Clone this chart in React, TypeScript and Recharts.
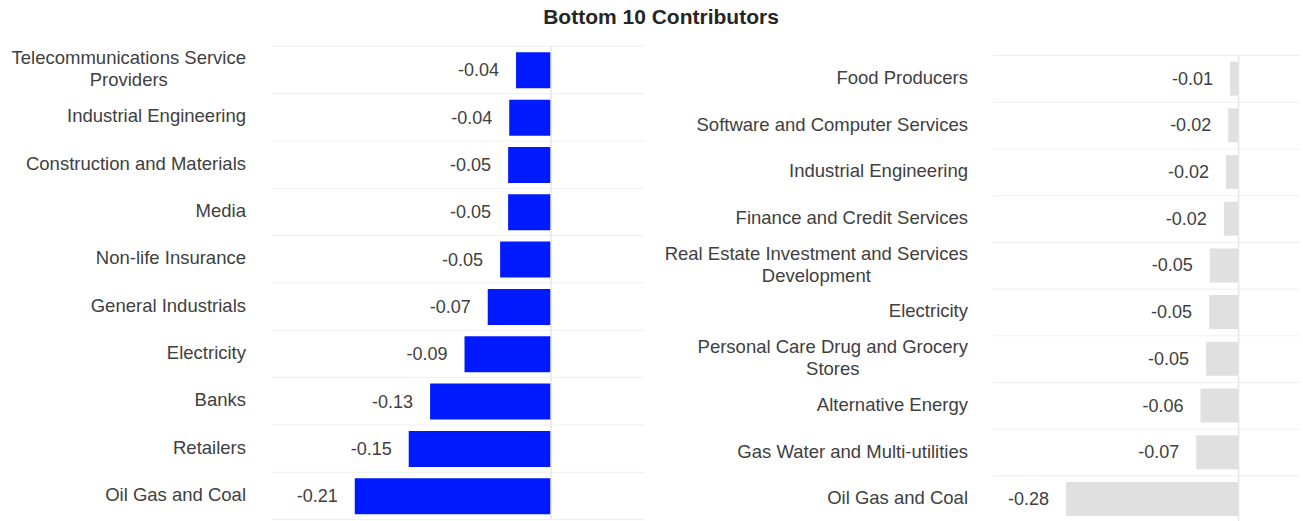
import React from 'react';
import { BarChart, Bar, XAxis, YAxis, CartesianGrid, ReferenceLine, LabelList } from 'recharts';

const leftCategories = [
  'Telecommunications Service Providers',
  'Industrial Engineering',
  'Construction and Materials',
  'Media',
  'Non-life Insurance',
  'General Industrials',
  'Electricity',
  'Banks',
  'Retailers',
  'Oil Gas and Coal',
];
const leftValues = [-0.0376, -0.0449, -0.0461, -0.0461, -0.0547, -0.068, -0.093, -0.13, -0.153, -0.211];

const rightCategories = [
  'Food Producers',
  'Software and Computer Services',
  'Industrial Engineering',
  'Finance and Credit Services',
  'Real Estate Investment and Services Development',
  'Electricity',
  'Personal Care Drug and Grocery Stores',
  'Alternative Energy',
  'Gas Water and Multi-utilities',
  'Oil Gas and Coal',
];
const rightValues = [-0.014, -0.017, -0.0205, -0.024, -0.047, -0.048, -0.053, -0.062, -0.069, -0.281];

const leftDomain = [-0.3, 0.1];
const rightDomain = [-0.4, 0.1];

const TITLE = 'Bottom 10 Contributors';

const FONT_FAMILY = '"Liberation Sans", Arial, Helvetica, sans-serif';
const CAT_SIZE = 18.5;
const VAL_SIZE = 18;
const TEXT_COLOR = '#404040';
const LINE_H = 21.5;

let ctx: CanvasRenderingContext2D | null = null;
function measure(text: string): number {
  if (!ctx) ctx = document.createElement('canvas').getContext('2d');
  if (!ctx) return text.length * CAT_SIZE * 0.5;
  ctx.font = `${CAT_SIZE}px ${FONT_FAMILY}`;
  return ctx.measureText(text).width;
}

function wrap(text: string, maxW: number): string[] {
  const words = text.split(' ');
  const lines: string[] = [];
  let cur = '';
  for (const w of words) {
    const cand = cur ? cur + ' ' + w : w;
    if (cur && measure(cand) > maxW) {
      lines.push(cur);
      cur = w;
    } else {
      cur = cand;
    }
  }
  if (cur) lines.push(cur);
  return lines;
}

const makeTick = (maxW: number) => (props: any) => {
  const { x, y, payload } = props;
  const lines = wrap(String(payload.value), maxW);
  const mw = Math.max(...lines.map((l) => measure(l)));
  const cx = x - mw / 2;
  const startY = y - 1.5 - ((lines.length - 1) * LINE_H) / 2;
  return (
    <g>
      {lines.map((l, i) => (
        <text
          key={i}
          x={cx}
          y={startY + i * LINE_H}
          textAnchor="middle"
          dominantBaseline="central"
          fontSize={CAT_SIZE}
          fontFamily={FONT_FAMILY}
          fill={TEXT_COLOR}
        >
          {l}
        </text>
      ))}
    </g>
  );
};

const valueLabel = (props: any) => {
  const { x, y, width, height, value } = props;
  const left = Math.min(x, x + width);
  return (
    <text
      x={left - 17}
      y={y + height / 2}
      textAnchor="end"
      dominantBaseline="central"
      fontSize={VAL_SIZE}
      fontFamily={FONT_FAMILY}
      fill={TEXT_COLOR}
    >
      {Number(value).toFixed(2)}
    </text>
  );
};

const boundaryLines = (n: number) => (args: any) => {
  const off = args.offset;
  const out: number[] = [];
  for (let i = 0; i <= n; i++) out.push(off.top + (i * off.height) / n);
  return out;
};

const leftData = leftCategories.map((name, i) => ({ name, value: leftValues[i] }));
const rightData = rightCategories.map((name, i) => ({ name, value: rightValues[i] }));

export default function App() {
  return (
    <div
      style={{
        position: 'absolute',
        left: 0,
        top: 0,
        width: 1303,
        height: 521,
        overflow: 'hidden',
        background: '#ffffff',
        fontFamily: FONT_FAMILY,
      }}
    >
      <div
        style={{
          position: 'absolute',
          left: 661,
          top: 5,
          transform: 'translateX(-50%)',
          whiteSpace: 'nowrap',
          fontWeight: 'bold',
          fontSize: 21,
          lineHeight: '24px',
          color: '#262626',
        }}
      >
        {TITLE}
      </div>
      <div style={{ position: 'absolute', left: 0, top: 0 }}>
        <BarChart
          width={660}
          height={521}
          data={leftData}
          layout="vertical"
          margin={{ top: 46.3, right: 16, bottom: 1.4, left: 2 }}
        >
          <CartesianGrid
            vertical={false}
            stroke="#efefef"
            horizontalCoordinatesGenerator={boundaryLines(leftCategories.length)}
          />
          <XAxis type="number" domain={leftDomain} hide allowDataOverflow />
          <YAxis
            type="category"
            dataKey="name"
            width={270}
            tickLine={false}
            axisLine={false}
            tickSize={0}
            tickMargin={26}
            interval={0}
            tick={makeTick(260)}
          />
          <ReferenceLine x={0} stroke="#e6e6e6" strokeWidth={1.5} />
          <Bar dataKey="value" fill="#001aff" barSize={36} isAnimationActive={false}>
            <LabelList dataKey="value" content={valueLabel} />
          </Bar>
        </BarChart>
      </div>
      <div style={{ position: 'absolute', left: 660, top: 0 }}>
        <BarChart
          width={643}
          height={530}
          data={rightData}
          layout="vertical"
          margin={{ top: 55.6, right: 3, bottom: 7.4, left: 0 }}
        >
          <CartesianGrid
            vertical={false}
            stroke="#efefef"
            horizontalCoordinatesGenerator={boundaryLines(rightCategories.length)}
          />
          <XAxis type="number" domain={rightDomain} hide allowDataOverflow />
          <YAxis
            type="category"
            dataKey="name"
            width={333}
            tickLine={false}
            axisLine={false}
            tickSize={0}
            tickMargin={25}
            interval={0}
            tick={makeTick(315)}
          />
          <ReferenceLine x={0} stroke="#e6e6e6" strokeWidth={1.5} />
          <Bar dataKey="value" fill="#e0e0e0" barSize={34} isAnimationActive={false}>
            <LabelList dataKey="value" content={valueLabel} />
          </Bar>
        </BarChart>
      </div>
    </div>
  );
}
